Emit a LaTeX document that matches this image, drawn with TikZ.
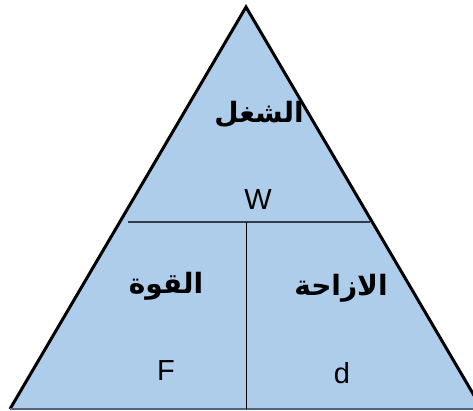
\documentclass[tikz,border=0pt]{standalone}
\usepackage{fontspec}
\setmainfont{Liberation Sans}
\newfontfamily\arabicfont[Script=Arabic]{DejaVu Sans}
\TeXXeTstate=1
\usetikzlibrary{calc}
\definecolor{trifill}{RGB}{174,205,234}
\definecolor{baseedge}{RGB}{80,100,125}
\definecolor{divline}{RGB}{50,60,75}
\tikzset{
  arlabel/.style={font=\arabicfont\bfseries\fontsize{28}{32}\selectfont},
  symlabel/.style={font=\fontsize{29}{33}\selectfont},
}

\begin{document}
\begin{tikzpicture}[x=1pt,y=-1pt]
\useasboundingbox (0,0) rectangle (473,410);
% triangle
\coordinate (apex) at (246,7);
\coordinate (bl) at (10,409);
\coordinate (br) at (482,409);
\fill[trifill] (apex) -- (bl) -- (br) -- cycle;
\draw[black,line width=3pt] (bl) -- (apex) -- (br);
\draw[baseedge,line width=1.5pt] (bl) -- (br);
% dividers
\coordinate (divL) at (128,222);
\coordinate (divR) at (370,222);
\coordinate (divM) at (246.5,222);
\coordinate (divB) at (246.5,409);
\draw[divline,line width=1.6pt] (divL) -- (divR);
\draw[black,line width=1.2pt] (divM) -- (divB);
% labels
\node[arlabel] (work) at (259,114) {\beginR الشغل\endR};
\node[symlabel] (wsym) at (258,200) {W};
\node[arlabel] (force) at (166,286) {\beginR القوة\endR};
\node[symlabel] (fsym) at (166,371) {F};
\node[arlabel] (disp) at (341,288) {\beginR الازاحة\endR};
\node[symlabel] (dsym) at (342,373) {d};
\end{tikzpicture}
\end{document}
